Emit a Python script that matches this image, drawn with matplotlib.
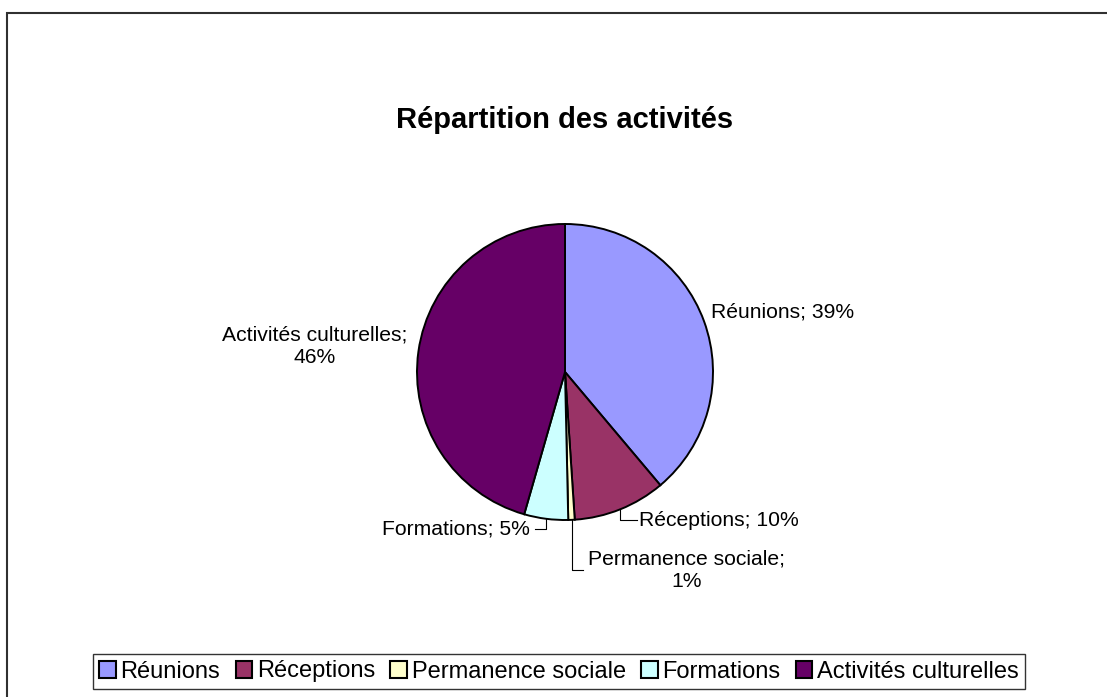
import numpy as np
import matplotlib.pyplot as plt
from matplotlib.patches import Patch, Rectangle

plt.rcParams['font.family'] = ['Liberation Sans', 'DejaVu Sans']

# data
categories = ['Réunions', 'Réceptions', 'Permanence sociale', 'Formations', 'Activités culturelles']
values = [38.9, 10.1, 0.7, 4.8, 45.6]
colors = ['#9999FF', '#993366', '#FFFFCC', '#CCFFFF', '#660066']
title = 'Répartition des activités'

W, H = 1107, 697
fig = plt.figure(figsize=(W / 100, H / 100), dpi=100)

# outer chart border (only left/top visible in the crop)
fig.patches.append(Rectangle((7 / W, -0.2), 1.3, 1.2 - 13 / H, transform=fig.transFigure,
                             fill=False, edgecolor='#303030', linewidth=1.5))

# pie axes: centre (565, 372) px, radius 148 px
cx, cy, r = 565, 372, 148
ax = fig.add_axes([(cx - r) / W, 1 - (cy + r) / H, 2 * r / W, 2 * r / H])
wedges, _ = ax.pie(values, colors=colors, startangle=90, counterclock=False, radius=1,
                   wedgeprops=dict(edgecolor='black', linewidth=1.4))
ax.set_xlim(-1, 1)
ax.set_ylim(-1, 1)
ax.set_aspect('equal')
ax.axis('off')

total = sum(values)
labels = []
for c, v in zip(categories, values):
    p = v / total * 100
    labels.append(f'{c}; {p:.0f}%')
labels[2] = 'Permanence sociale;\n%.0f%%' % (values[2] / total * 100)
labels[4] = 'Activités culturelles;\n%.0f%%' % (values[4] / total * 100)

# label placement (units of pie radius): x, y, ha, leader end x (None = no leader)
label_pos = [
    (0.986, 0.405, 'left', None),
    (0.50, -1.0, 'left', 0.486),
    (0.824, -1.338, 'center', 0.122),
    (-0.236, -1.061, 'right', -0.203),
    (-1.689, 0.172, 'center', None),
]

fs = 15.2
cum = 0
for i, (w, lab) in enumerate(zip(wedges, labels)):
    mid = (cum + values[i] / 2) / total * 360
    cum += values[i]
    tx, ty, ha, lx = label_pos[i]
    ax.text(tx, ty, lab, ha=ha, va='center', fontsize=fs, multialignment='center',
            linespacing=1.25, clip_on=False)
    if lx is not None:
        ex = np.sin(np.radians(mid))
        ey = np.cos(np.radians(mid))
        ax.plot([ex, ex, lx], [ey, ty, ty], color='black', linewidth=0.8, clip_on=False)

fig.text(cx / W, 1 - 120 / H, title, ha='center', va='center', fontsize=21, fontweight='bold')

handles = [Patch(facecolor=c, edgecolor='black', linewidth=1.5) for c in colors]
leg = fig.legend(handles, categories, loc='center', bbox_to_anchor=(559 / W, 1 - 671.5 / H),
                 ncol=5, fontsize=17, handlelength=0.7, handleheight=0.7, handletextpad=0.2,
                 columnspacing=0.65, borderpad=0.28, frameon=True, fancybox=False,
                 borderaxespad=0)
leg.get_frame().set_edgecolor('black')
leg.get_frame().set_linewidth(1.0)

fig.savefig('out.png', dpi=100)
